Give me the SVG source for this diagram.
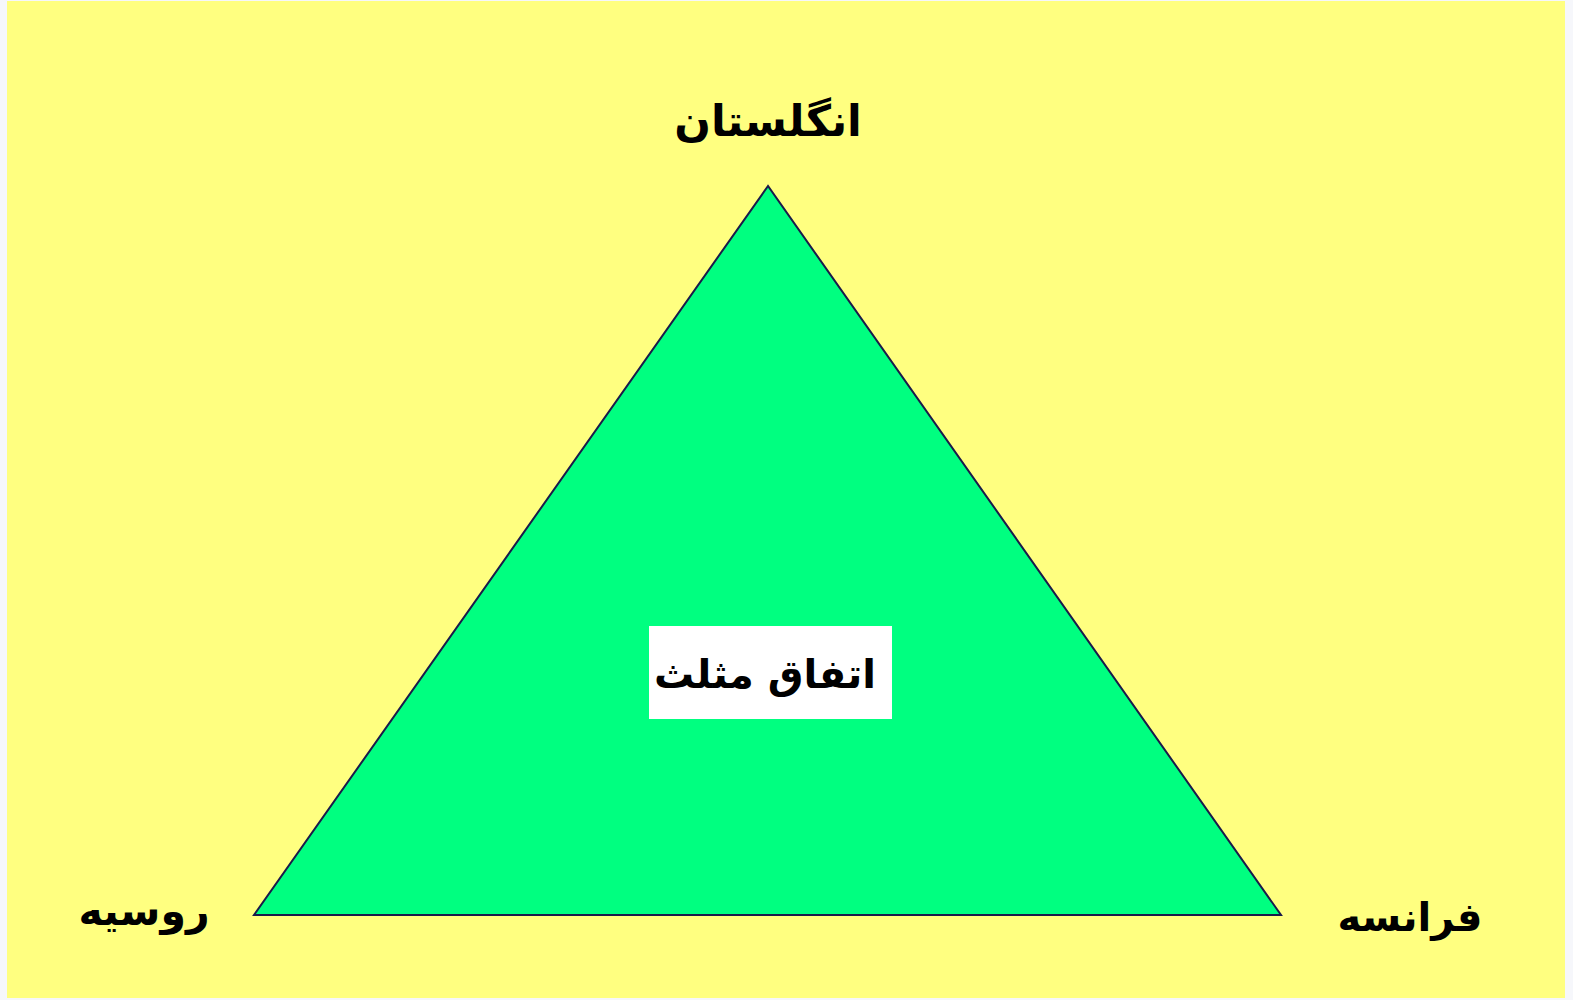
<svg xmlns="http://www.w3.org/2000/svg" width="1573" height="1000" viewBox="0 0 1573 1000">
<style>
.lbl{font-family:"DejaVu Sans",sans-serif;font-weight:bold;fill:#000;text-anchor:middle;direction:rtl}
</style>
<rect x="0" y="0" width="1573" height="1000" fill="#F6F7FB"/>
<rect x="7" y="1" width="1558" height="997" fill="#FFFF80"/>
<g id="connectors">
<polygon points="768,186 254,915 1281,915" fill="#00FF80" stroke="#1a1a4a" stroke-width="2"/>
</g>
<g id="node-center">
<rect x="649" y="626" width="243" height="93" fill="#FFFFFF"/>
<text class="lbl" x="765" y="688" font-size="40">اتفاق مثلث</text>
</g>
<g id="node-england">
<text class="lbl" x="768" y="136" font-size="43">انگلستان</text>
</g>
<g id="node-russia">
<text class="lbl" x="144" y="925" font-size="41">روسیه</text>
</g>
<g id="node-france">
<text class="lbl" x="1410" y="931" font-size="40">فرانسه</text>
</g>
</svg>
